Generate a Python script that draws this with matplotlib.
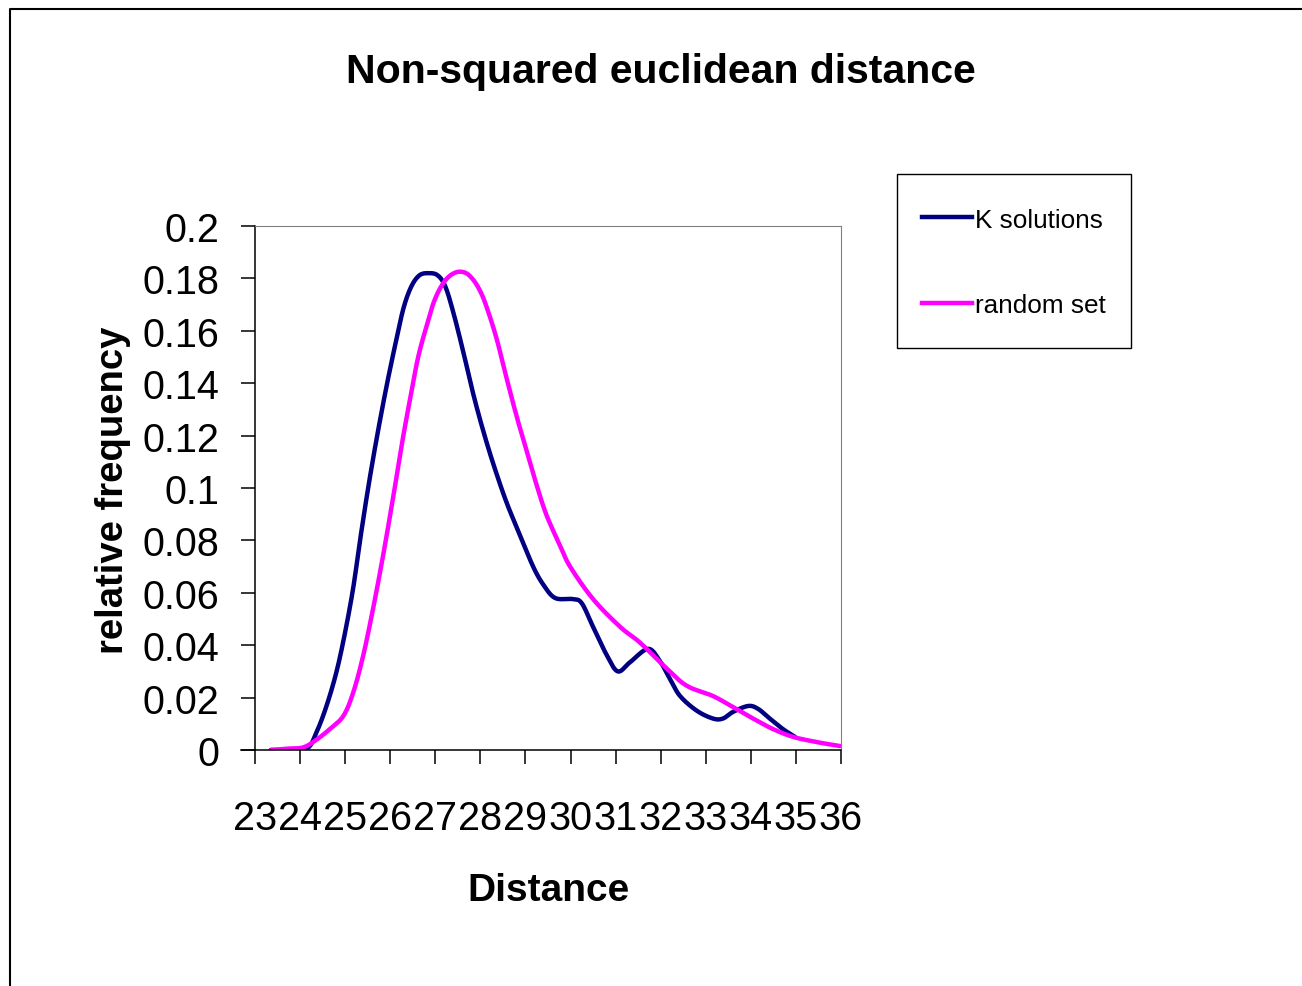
import numpy as np
import matplotlib
matplotlib.use("Agg")
import matplotlib.pyplot as plt
from matplotlib.lines import Line2D
from matplotlib.patches import Rectangle

plt.rcParams['font.family'] = ['Liberation Sans', 'DejaVu Sans']

# values
k_dist = [23.35, 23.7, 24.15, 24.37, 24.59, 24.81, 25.0, 25.18, 25.33, 25.51, 25.70,
          25.92, 26.14, 26.30, 26.47, 26.65, 26.85, 27.05, 27.22, 27.40, 27.62, 27.84,
          28.06, 28.29, 28.58, 28.88, 29.17, 29.40, 29.66, 30.05, 30.25, 30.50,
          30.81, 31.05, 31.32, 31.72, 31.98, 32.21, 32.43, 32.80, 33.16, 33.38,
          33.60, 33.94, 34.16, 34.42, 34.71, 34.98]
k_freq = [0.0, 0.0, 0.0005, 0.007, 0.017, 0.030, 0.045, 0.062, 0.080, 0.100, 0.119,
          0.139, 0.157, 0.169, 0.177, 0.1812, 0.182, 0.1812, 0.177, 0.167, 0.152, 0.136,
          0.122, 0.109, 0.0945, 0.082, 0.070, 0.063, 0.058, 0.0576, 0.056, 0.047,
          0.036, 0.030, 0.0335, 0.0386, 0.034, 0.027, 0.0206, 0.015, 0.012, 0.012,
          0.0145, 0.0168, 0.0157, 0.012, 0.008, 0.005]

rand_dist = [23.35, 23.7, 24.07, 24.37, 24.66, 24.96, 25.18, 25.40, 25.62, 25.85,
             26.07, 26.25, 26.44, 26.62, 26.81, 26.99, 27.21, 27.44, 27.66, 27.84,
             28.00, 28.14, 28.36, 28.58, 28.81, 29.03, 29.25, 29.47, 29.77, 29.99,
             30.50, 31.10, 31.54, 32.14, 32.58, 33.16, 33.60, 34.05, 34.49, 34.94,
             35.47, 35.98]
rand_freq = [0.0, 0.0005, 0.001, 0.004, 0.008, 0.013, 0.022, 0.036, 0.054, 0.075,
             0.097, 0.116, 0.134, 0.150, 0.162, 0.172, 0.179, 0.1822, 0.1822, 0.1795,
             0.175, 0.169, 0.157, 0.142, 0.127, 0.114, 0.101, 0.0895, 0.078, 0.070,
             0.0576, 0.047, 0.041, 0.031, 0.0245, 0.0206, 0.0164, 0.012, 0.008, 0.005,
             0.003, 0.0015]

x_ticks = list(range(23, 37))
y_ticks = [0, 0.02, 0.04, 0.06, 0.08, 0.1, 0.12, 0.14, 0.16, 0.18, 0.2]
y_labels = ["0", "0.02", "0.04", "0.06", "0.08", "0.1", "0.12", "0.14", "0.16", "0.18", "0.2"]

series = [("K solutions", k_dist, k_freq, "#000080"),
          ("random set", rand_dist, rand_freq, "#FF00FF")]


def smooth(x, y, n=16):
    # catmull-rom through the points, like excel's smoothed line
    x = np.asarray(x, float)
    y = np.asarray(y, float)
    px = np.concatenate([[2 * x[0] - x[1]], x, [2 * x[-1] - x[-2]]])
    py = np.concatenate([[2 * y[0] - y[1]], y, [2 * y[-1] - y[-2]]])
    t = np.linspace(0, 1, n, endpoint=False)
    xs, ys = [], []
    for i in range(1, len(px) - 2):
        for p, out in ((px, xs), (py, ys)):
            p0, p1, p2, p3 = p[i - 1], p[i], p[i + 1], p[i + 2]
            out.append(0.5 * (2 * p1 + (-p0 + p2) * t
                              + (2 * p0 - 5 * p1 + 4 * p2 - p3) * t ** 2
                              + (-p0 + 3 * p1 - 3 * p2 + p3) * t ** 3))
    xs.append([x[-1]])
    ys.append([y[-1]])
    return np.concatenate(xs), np.maximum(np.concatenate(ys), 0)


W, H = 1302, 987
fig = plt.figure(figsize=(W / 100, H / 100), dpi=100)


def fx(px):
    return px / W


def fy(py):
    return 1 - py / H


ax = fig.add_axes([fx(255), fy(751), fx(841) - fx(255), fy(227) - fy(751)])

for name, xd, yd, col in series:
    sx, sy = smooth(xd, yd)
    ax.plot(sx, sy, color=col, lw=3.2, solid_capstyle='round')

ax.set_xlim(23, 36)
ax.set_ylim(0, 0.2)
ax.set_xticks(x_ticks)
ax.set_xticklabels([str(v) for v in x_ticks])
ax.set_yticks(y_ticks)
ax.set_yticklabels(y_labels)
ax.tick_params(axis='both', direction='out', length=10, width=1.1,
               labelsize=28.5, color='black')
ax.tick_params(axis='x', pad=25)
ax.tick_params(axis='y', pad=15.5)

for s in ['left', 'bottom']:
    ax.spines[s].set_color('black')
    ax.spines[s].set_linewidth(1.1)
for s in ['top', 'right']:
    ax.spines[s].set_color('#808080')
    ax.spines[s].set_linewidth(0.8)
# x axis line runs a little past the y axis
ax.plot([-14 / 586, 0], [0, 0], transform=ax.transAxes, color='black', lw=1.1, clip_on=False)

fig.text(fx(661), fy(83), "Non-squared euclidean distance", fontsize=29.5,
         fontweight='bold', ha='center', va='baseline')
fig.text(fx(548), fy(901), "Distance", fontsize=28, fontweight='bold',
         ha='center', va='baseline')
fig.text(fx(123), fy(490), "relative frequency", fontsize=27.5, fontweight='bold',
         ha='center', va='baseline', rotation=90, rotation_mode='anchor')

# legend box
fig.add_artist(Rectangle((fx(897), fy(349)), fx(1131) - fx(897), fy(175) - fy(349),
                         transform=fig.transFigure, fill=False, edgecolor='black', lw=1.0))
for (name, xd, yd, col), ly, tb in zip(series, [218, 304], [228, 313]):
    fig.add_artist(Line2D([fx(922), fx(972)], [fy(ly), fy(ly)], color=col, lw=3.2,
                          transform=fig.transFigure))
    fig.text(fx(975), fy(tb), name, fontsize=18.8, ha='left', va='baseline')

# outer chart frame (top and left edges visible)
fig.add_artist(Line2D([fx(10), fx(10), 1.0], [0.0, fy(10), fy(10)], color='black',
                      lw=1.5, transform=fig.transFigure))

fig.savefig("out.png", dpi=100, facecolor='white')
